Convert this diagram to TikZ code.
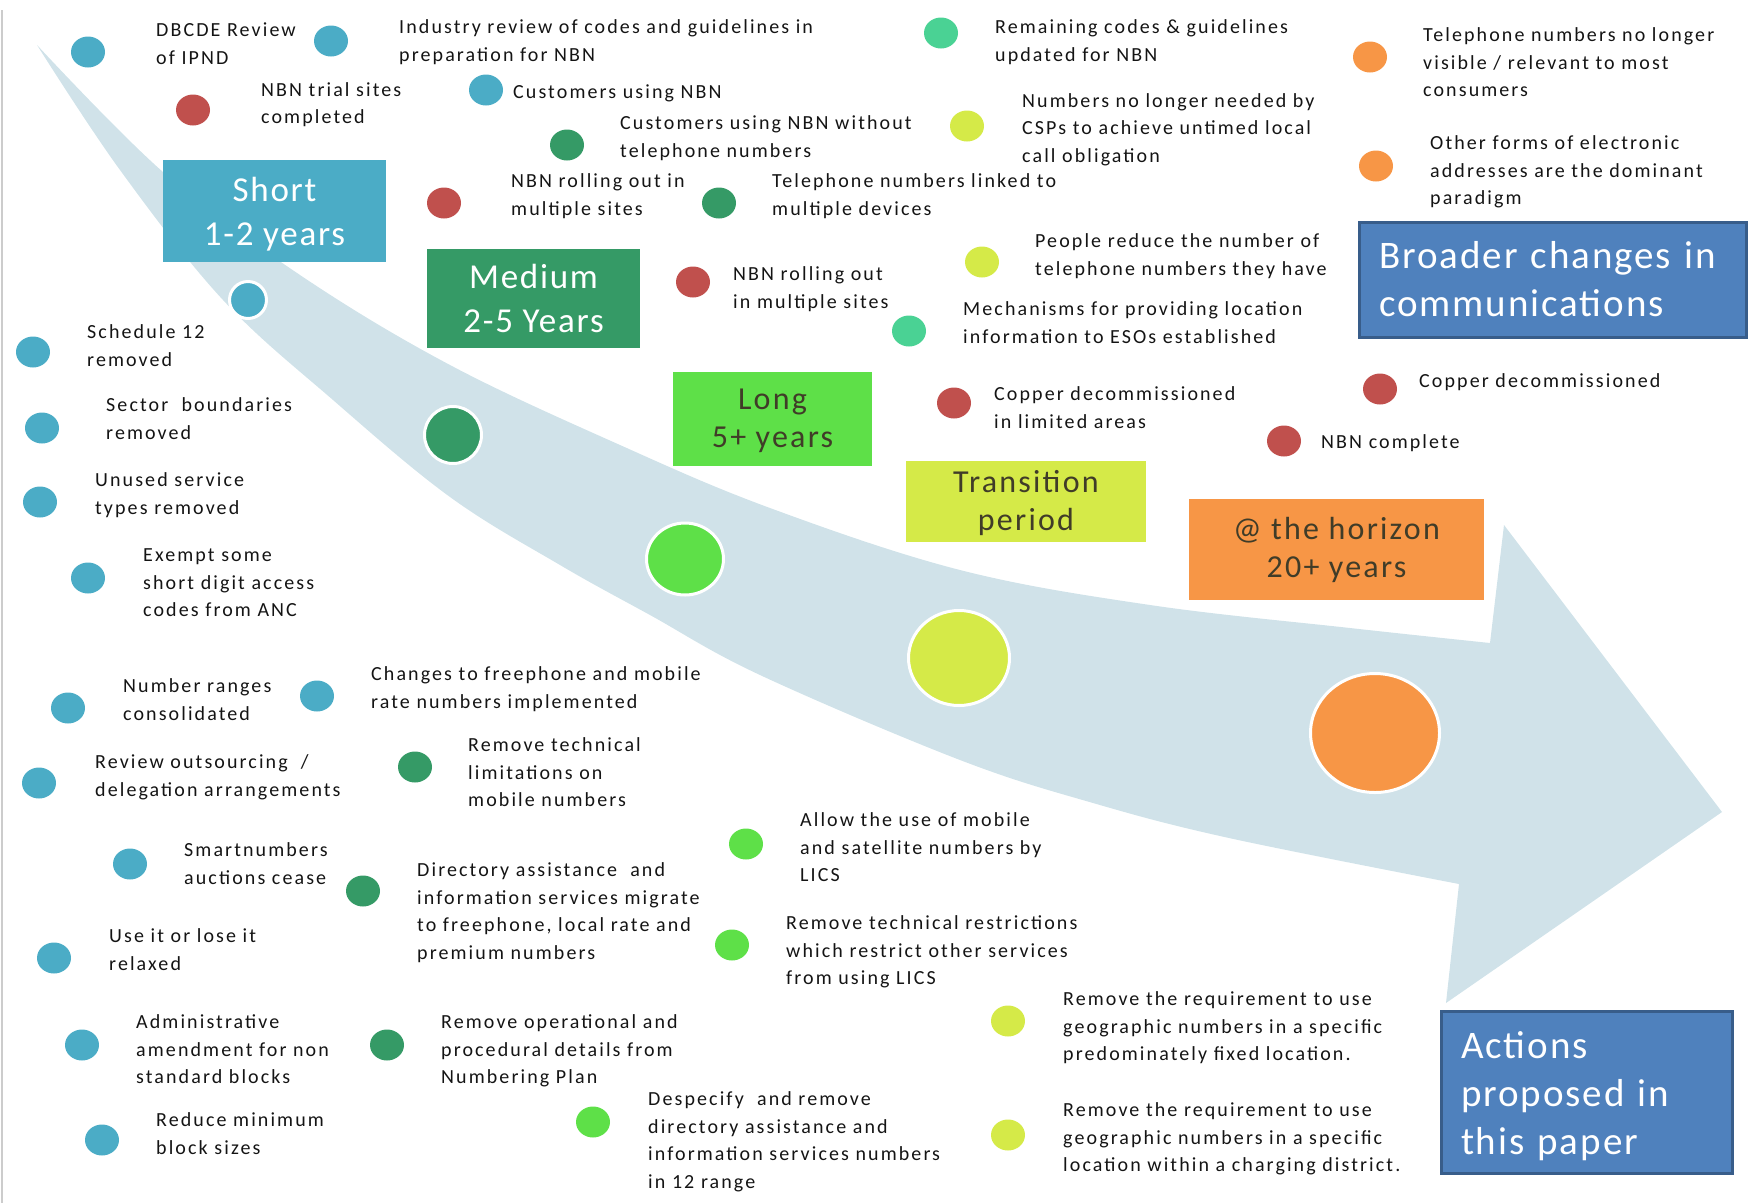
\documentclass[tikz,border=0pt]{standalone}
\usepackage{fontspec}
\setmainfont{Carlito}
\newfontfamily\lblfont[LetterSpace=10.5]{Carlito}
\newfontfamily\boxfont[LetterSpace=5]{Carlito}
\newfontfamily\midfont[LetterSpace=7]{Carlito}
\usetikzlibrary{shapes.geometric}
\definecolor{bandc}{RGB}{208,226,233}
\definecolor{cblue}{RGB}{75,172,198}
\definecolor{cred}{RGB}{192,80,77}
\definecolor{cdkgreen}{RGB}{53,154,102}
\definecolor{cteal}{RGB}{74,210,148}
\definecolor{cyellow}{RGB}{213,234,72}
\definecolor{corange}{RGB}{247,150,70}
\definecolor{cbright}{RGB}{94,224,72}
\definecolor{cnavy}{RGB}{79,129,189}
\definecolor{cnavyb}{RGB}{56,93,138}
\definecolor{cdarktext}{RGB}{64,60,40}
\begin{document}
\begin{tikzpicture}[x=1pt,y=-1pt,
  lbl/.style={anchor=north west, inner sep=0pt, align=left, text=black!92,
    font=\lblfont\fontsize{20}{27.5}\selectfont, execute at begin node=\strut},
  lblm/.style={lbl, yshift=-6.5pt},
  dot/.style={ellipse, minimum width=34pt, minimum height=31pt, inner sep=0pt},
  ring/.style={ellipse, draw=white, line width=3pt, inner sep=0pt},
  pbox/.style={rectangle, inner sep=0pt, align=center},
  bigfont/.style={font=\boxfont\fontsize{35}{43.5}\selectfont},
  midfontst/.style={font=\midfont\fontsize{32}{38}\selectfont, text=cdarktext},
  bluetext/.style={rectangle, text=white, align=left, inner xsep=20pt, inner ysep=0pt,
    font=\boxfont\fontsize{39}{48}\selectfont},
  bluebox/.style={bluetext, fill=cnavy, draw=cnavyb, line width=3pt}
]
\useasboundingbox (0,0) rectangle (1749,1203);
% left edge line
\draw[black!20, line width=2pt] (1.5,10) -- (1.5,1203);
% curved band arrow
\fill[bandc] plot[smooth, tension=0.6] coordinates {(37,45) (163,172) (300,275) (450,365) (620,445) (770,508) (960,570) (1150,605) (1350,628) (1490,643)}
  -- (1504,525) -- (1722,812) -- (1446,1003)
  -- plot[smooth, tension=0.6] coordinates {(1459,884) (1229,838) (1093,803) (960,760) (760,675) (650,615) (560,565) (450,497) (333,400) (223,300) (120,170) (37,45)}
  -- cycle;
% circles in band
\node[ring, fill=cblue, minimum width=37pt, minimum height=37pt] (c1) at (248,300) {};
\node[ring, fill=cdkgreen, minimum width=57pt, minimum height=57pt] (c2) at (453,435) {};
\node[ring, fill=cbright, minimum width=77pt, minimum height=72pt] (c3) at (685,559) {};
\node[ring, fill=cyellow, minimum width=101pt, minimum height=95pt] (c4) at (959,658) {};
\node[ring, fill=corange, minimum width=129pt, minimum height=119pt] (c5) at (1375,733) {};
% period boxes
\node[pbox, bigfont, fill=cblue, text=white, minimum width=223pt, minimum height=102pt] (short) at (274.5,211) {};
\node[pbox, bigfont, text=white, yshift=-3pt] (shortt) at (short.center) {Short\\1-2 years};
\node[pbox, bigfont, fill=cdkgreen, text=white, minimum width=213pt, minimum height=99pt] (medium) at (533.5,298.5) {Medium\\2-5 Years};
\node[pbox, midfontst, fill=cbright, minimum width=199pt, minimum height=94pt] (long) at (772.5,419) {};
\node[pbox, midfontst, yshift=-2pt] (longt) at (long.center) {Long\\5+ years};
\node[pbox, midfontst, fill=cyellow, minimum width=240pt, minimum height=81pt] (trans) at (1026,501.5) {};
\node[pbox, midfontst, yshift=-2pt] (transt) at (trans.center) {Transition\\period};
\node[pbox, midfontst, fill=corange, minimum width=295pt, minimum height=101pt] (horizon) at (1336.5,549.5) {@ the horizon\\20+ years};
\node[bluebox, text width=347pt, minimum height=115pt] (broader) at (1552.5,279.5) {Broader changes in\\communications};
\node[bluebox, minimum width=291pt, minimum height=162pt] (actions) at (1586.5,1092) {};
\node[bluetext, text width=251pt, yshift=-4.5pt] (actionst) at (actions.center) {Actions\\proposed in\\this paper};
% dots
\node[dot, fill=cblue] (d1) at (88,52) {};
\node[dot, fill=cblue] (d2) at (331,41) {};
\node[dot, fill=cred] (d3) at (193,110) {};
\node[dot, fill=cblue] (d4) at (486,90) {};
\node[dot, fill=cdkgreen] (d5) at (567,145) {};
\node[dot, fill=cred] (d6) at (444,203) {};
\node[dot, fill=cdkgreen] (d7) at (719,203) {};
\node[dot, fill=cteal] (d8) at (941,33) {};
\node[dot, fill=cyellow] (d9) at (967,126) {};
\node[dot, fill=corange] (d10) at (1370,57) {};
\node[dot, fill=corange] (d11) at (1376,166) {};
\node[dot, fill=cyellow] (d12) at (982,262) {};
\node[dot, fill=cred] (d13) at (693,282) {};
\node[dot, fill=cteal] (d14) at (909,331) {};
\node[dot, fill=cred] (d15) at (954,403) {};
\node[dot, fill=cred] (d16) at (1380,389) {};
\node[dot, fill=cred] (d17) at (1284,441) {};
\node[dot, fill=cblue] (d18) at (33,352) {};
\node[dot, fill=cblue] (d19) at (42,428) {};
\node[dot, fill=cblue] (d20) at (40,502) {};
\node[dot, fill=cblue] (d21) at (88,578) {};
\node[dot, fill=cblue] (d22) at (68,708) {};
\node[dot, fill=cblue] (d23) at (317,696) {};
\node[dot, fill=cblue] (d24) at (39,783) {};
\node[dot, fill=cdkgreen] (d25) at (415,767) {};
\node[dot, fill=cblue] (d26) at (130,864) {};
\node[dot, fill=cdkgreen] (d27) at (363,891) {};
\node[dot, fill=cbright] (d28) at (746,844) {};
\node[dot, fill=cbright] (d29) at (732,945) {};
\node[dot, fill=cblue] (d30) at (54,958) {};
\node[dot, fill=cblue] (d31) at (82,1045) {};
\node[dot, fill=cdkgreen] (d32) at (387,1045) {};
\node[dot, fill=cyellow] (d33) at (1008,1021) {};
\node[dot, fill=cbright] (d34) at (593,1122) {};
\node[dot, fill=cyellow] (d35) at (1008,1135) {};
\node[dot, fill=cblue] (d36) at (102,1140) {};
% labels
\node[lblm] (t1) at (156,16.5) {DBCDE Review\\of IPND};
\node[lblm] (t2) at (399,13.2) {Industry review of codes and guidelines in\\preparation for NBN};
\node[lblm] (t3) at (261,75.6) {NBN trial sites\\completed};
\node[lbl] (t4) at (513,79) {Customers using NBN};
\node[lblm] (t5) at (620,109) {Customers using NBN without\\telephone numbers};
\node[lblm] (t6) at (511,167) {NBN rolling out in\\multiple sites};
\node[lblm] (t7) at (772,167) {Telephone numbers linked to\\multiple devices};
\node[lblm] (t8) at (995,13.2) {Remaining codes \& guidelines\\updated for NBN};
\node[lblm] (t9) at (1022,86.8) {Numbers no longer needed by\\CSPs to achieve untimed local\\call obligation};
\node[lblm] (t10) at (1423,21) {Telephone numbers no longer\\visible / relevant to most\\consumers};
\node[lblm] (t11) at (1430,129) {Other forms of electronic\\addresses are the dominant\\paradigm};
\node[lblm] (t12) at (1035,227) {People reduce the number of\\telephone numbers they have};
\node[lblm] (t13) at (733,260) {NBN rolling out\\in multiple sites};
\node[lblm] (t14) at (963,295) {Mechanisms for providing location\\information to ESOs established};
\node[lblm] (t15) at (994,380) {Copper decommissioned\\in limited areas};
\node[lbl] (t16) at (1419,368) {Copper decommissioned};
\node[lbl] (t17) at (1321,429) {NBN complete};
\node[lblm] (t18) at (87,318) {Schedule 12\\removed};
\node[lblm] (t19) at (106,391) {Sector\ \ boundaries\\removed};
\node[lblm] (t20) at (95,466) {Unused service\\types removed};
\node[lblm] (t21) at (143,542) {Exempt some\\short digit access\\codes from ANC};
\node[lblm] (t22) at (123,672) {Number ranges\\consolidated};
\node[lblm] (t23) at (371,660) {Changes to freephone and mobile\\rate numbers implemented};
\node[lblm] (t24) at (95,748) {Review outsourcing\ \ /\\delegation arrangements};
\node[lblm] (t25) at (468,731) {Remove technical\\limitations on\\mobile numbers};
\node[lblm] (t26) at (184,836) {Smartnumbers\\auctions cease};
\node[lblm] (t27) at (417,856) {Directory assistance\ \ and\\information services migrate\\to freephone, local rate and\\premium numbers};
\node[lblm] (t28) at (800,806) {Allow the use of mobile\\and satellite numbers by\\LICS};
\node[lblm] (t29) at (786,909) {Remove technical restrictions\\which restrict other services\\from using LICS};
\node[lblm] (t30) at (109,922) {Use it or lose it\\relaxed};
\node[lblm] (t31) at (136,1008) {Administrative\\amendment for non\\standard blocks};
\node[lblm] (t32) at (441,1008) {Remove operational and\\procedural details from\\Numbering Plan};
\node[lblm] (t33) at (1063,985) {Remove the requirement to use\\geographic numbers in a specific\\predominately fixed location.};
\node[lblm] (t34) at (648,1085) {Despecify\ \ and remove\\directory assistance and\\information services numbers\\in 12 range};
\node[lblm] (t35) at (1063,1096) {Remove the requirement to use\\geographic numbers in a specific\\location within a charging district.};
\node[lblm] (t36) at (156,1106) {Reduce minimum\\block sizes};
\end{tikzpicture}
\end{document}
